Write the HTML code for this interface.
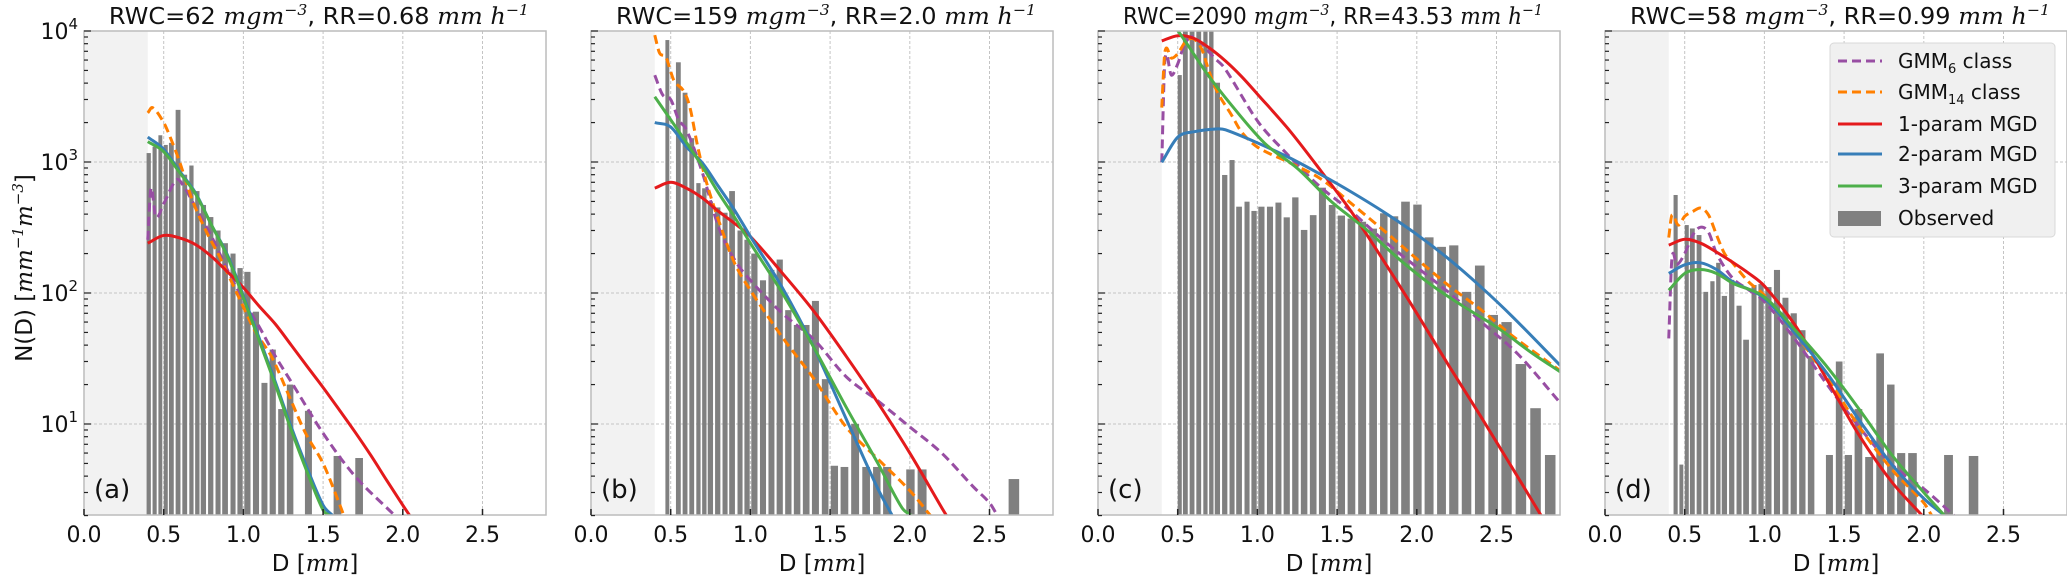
<!DOCTYPE html>
<html><head><meta charset="utf-8">
<style>
html,body{margin:0;padding:0;background:#fff;}
svg{display:block;font-family:"DejaVu Sans","Liberation Sans",sans-serif;}
.m{font-family:"DejaVu Serif","Liberation Serif",serif;font-style:italic;}
</style></head>
<body>
<svg id="chart" width="2067" height="577" viewBox="0 0 2067 577" xmlns="http://www.w3.org/2000/svg">
<defs id="defs"></defs>
<g id="root"></g>
</svg>
<script>
// ---- data ----
const bins = [0.406,0.443,0.479,0.513,0.548,0.59,0.632,0.674,0.711,0.749,0.795,0.841,0.885,0.935,0.979,1.025,1.079,1.132,1.184,1.238,1.293,1.35,1.408,1.469,1.527,1.59,1.657,1.726,1.793,1.858,1.929,2.004,2.077,2.155,2.232,2.312,2.395,2.479,2.563,2.653,2.745,2.837];
const obsA = [1170,1310,1600,1350,1400,2500,800,940,600,470,380,300,240,200,155,145,72,20.6,37,13,20,0,12.6,0,0,5.7,0,5.5,0,0,0,0,0,0,0,0,0,0,0,0,0,0];
const obsB = [0,0,8530,0,5770,3380,1520,690,630,500,450,410,600,300,255,200,125,150,180,74,57,57,87,22,4.8,4.7,10,4.7,4.7,4.7,0,4.5,4.5,0,0,0,0,0,0,3.8,0,0];
const obsC = [0,0,0,4610,12000,13000,12000,11000,10500,4030,796,1035,456,498,423,456,456,490,378,537,303,393,637,470,390,370,350,310,406,385,498,473,266,225,231,102,162,68,60,28.7,13.2,5.8];
const obsD = [0,560,4.9,330,311,277,102,123,170,95,126,80,44,115,117,111,150,92,70,52,33,0,5.8,30,5.8,13,5.6,34.6,20,6,6,0,0,5.8,0,5.7,0,0,0,0,0,0];

const aPurple = [[0.4,255],[0.42,630],[0.45,380],[0.5,480],[0.58,730],[0.63,640],[0.7,450],[0.8,270],[0.9,150],[1.0,88],[1.1,55],[1.2,33],[1.3,21],[1.5,8.5],[1.7,4],[1.95,2]];
const aOrange = [[0.4,2370],[0.43,2600],[0.5,2000],[0.55,1450],[0.6,1000],[0.68,510],[0.77,290],[0.85,190],[0.98,88],[1.07,52],[1.18,32],[1.3,15],[1.39,8.5],[1.5,5],[1.6,2.5],[1.63,2]];
const aRed = [[0.4,240],[0.5,275],[0.6,263],[0.7,234],[0.8,190],[0.9,145],[1.0,110],[1.1,79],[1.2,58],[1.3,40],[1.4,27.5],[1.5,19],[1.6,12.9],[1.7,8.7],[1.8,5.75],[1.9,3.7],[2.0,2.4],[2.05,1.95]];
const aBlue = [[0.4,1550],[0.5,1250],[0.6,850],[0.7,580],[0.8,330],[0.9,195],[1.0,95],[1.1,45],[1.2,21],[1.3,9.5],[1.4,4.6],[1.5,2.4],[1.56,2]];
const aGreen = [[0.4,1430],[0.5,1200],[0.6,830],[0.7,570],[0.8,330],[0.9,190],[1.0,92],[1.1,43],[1.2,20],[1.3,9],[1.4,4.3],[1.5,2.2],[1.54,2]];

const bPurple = [[0.4,4600],[0.45,3250],[0.5,3000],[0.55,2100],[0.6,1750],[0.7,820],[0.8,320],[0.9,180],[1.0,125],[1.2,70],[1.4,44],[1.6,23],[1.8,15],[2.0,9.5],[2.2,6],[2.4,3.3],[2.5,2.5],[2.55,2]];
const bOrange = [[0.4,9300],[0.43,6800],[0.47,6300],[0.52,4200],[0.58,3500],[0.62,2630],[0.67,1300],[0.72,730],[0.8,360],[0.9,170],[1.0,105],[1.2,46],[1.4,22],[1.6,9.5],[1.8,5.4],[2.0,3.1],[2.13,2]];
const bRed = [[0.4,632],[0.5,700],[0.6,630],[0.7,530],[0.8,420],[0.9,340],[1.0,270],[1.2,142],[1.4,72],[1.6,33],[1.8,14.5],[2.0,6],[2.2,2.3],[2.23,2]];
const bBlue = [[0.4,2000],[0.5,1850],[0.6,1300],[0.7,980],[0.8,650],[0.9,430],[1.0,270],[1.2,110],[1.4,38],[1.6,11],[1.8,3.2],[1.89,2]];
const bGreen = [[0.4,3150],[0.5,2100],[0.6,1400],[0.7,920],[0.8,580],[0.9,380],[1.0,240],[1.2,100],[1.4,38],[1.6,13.5],[1.8,5],[1.95,2.3],[2.01,2]];

const cPurple = [[0.4,995],[0.42,6000],[0.46,4600],[0.5,5600],[0.545,8000],[0.6,9000],[0.732,6190],[0.795,5190],[1.004,2030],[1.172,1200],[1.381,667],[1.59,418],[1.8,247],[2.01,154],[2.218,97],[2.427,57],[2.636,34],[2.9,14.5]];
const cOrange = [[0.4,2600],[0.42,6950],[0.46,6200],[0.5,6700],[0.55,8300],[0.6,8700],[0.65,7300],[0.7,4800],[0.75,3400],[0.837,2290],[0.9,1700],[1.0,1300],[1.2,990],[1.4,740],[1.6,470],[1.8,295],[2.0,182],[2.2,114],[2.4,75],[2.6,47],[2.9,25.5]];
const cRed = [[0.4,8400],[0.5,9200],[0.6,8800],[0.7,7400],[0.8,5900],[0.9,4500],[1.0,3300],[1.2,1750],[1.4,850],[1.6,400],[1.8,170],[2.0,70],[2.2,28],[2.4,11.5],[2.6,4.6],[2.78,2]];
const cBlue = [[0.4,995],[0.5,1545],[0.6,1700],[0.75,1790],[0.8,1760],[1.0,1400],[1.2,1080],[1.4,800],[1.6,580],[1.8,410],[2.0,280],[2.2,182],[2.4,112],[2.6,66],[2.9,28]];
const cGreen = [[0.46,11000],[0.502,10000],[0.69,4610],[0.837,2720],[1.046,1390],[1.255,885],[1.464,498],[1.674,312],[1.883,184],[2.092,115],[2.3,78],[2.51,54],[2.72,35],[2.9,25]];

const dPurple = [[0.4,45],[0.42,184],[0.45,164],[0.5,200],[0.55,277],[0.6,318],[0.65,290],[0.7,200],[0.8,130],[0.9,106],[1.0,86],[1.2,43],[1.4,19.5],[1.6,9.3],[1.8,4.9],[2.0,3.2],[2.19,2]];
const dOrange = [[0.4,265],[0.42,393],[0.46,330],[0.5,385],[0.55,418],[0.6,445],[0.65,393],[0.7,277],[0.75,200],[0.8,170],[0.9,122],[1.0,96],[1.2,48],[1.4,22],[1.6,9.3],[1.8,4.5],[2.0,2.5],[2.05,2]];
const dRed = [[0.4,232],[0.5,257],[0.6,240],[0.7,205],[0.8,172],[0.9,142],[1.0,113],[1.2,55],[1.4,21],[1.6,8],[1.8,3.6],[1.99,2]];
const dBlue = [[0.4,141],[0.5,164],[0.6,170],[0.7,151],[0.8,122],[1.0,91],[1.2,48],[1.4,23.7],[1.6,10.5],[1.8,4.9],[2.0,2.7],[2.13,2]];
const dGreen = [[0.4,105],[0.5,141],[0.6,151],[0.7,141],[0.8,119],[1.0,93],[1.2,51],[1.4,26.7],[1.6,12.7],[1.8,5.8],[2.0,3.0],[2.13,2]];

const xTicks = [0.0,0.5,1.0,1.5,2.0,2.5];
const xTickLabels = ["0.0","0.5","1.0","1.5","2.0","2.5"];
const yDecades = [1,2,3,4];
const panelLetters = ["(a)","(b)","(c)","(d)"];
const rwcVals = ["62","159","2090","58"];
const rrVals = ["0.68","2.0","43.53","0.99"];

// ---- layout ----
const NS = "http://www.w3.org/2000/svg";
const lefts = [84, 591, 1098, 1605];
const W = 462, TOP = 31, BOT = 515, PXMM = 159.4, DEC = 131, YMIN = 2;
const COLORS = {purple:"#984ea3", orange:"#ff7f00", red:"#e41a1c", blue:"#377eb8", green:"#4daf4a"};
const root = document.getElementById("root");
const defs = document.getElementById("defs");

function el(tag, attrs, parent){ const e=document.createElementNS(NS,tag); for(const k in attrs) e.setAttribute(k,attrs[k]); (parent||root).appendChild(e); return e; }
function xs(L,d){ return L + d*PXMM; }
function ys(v){ return TOP + (4-Math.log10(v))*DEC; }

function smoothPath(L, pts){
  const P = pts.map(p=>[xs(L,p[0]), ys(p[1])]);
  let d = "M"+P[0][0].toFixed(2)+","+P[0][1].toFixed(2);
  for(let i=0;i<P.length-1;i++){
    const p0=P[Math.max(0,i-1)], p1=P[i], p2=P[i+1], p3=P[Math.min(P.length-1,i+2)];
    const h = p2[0]-p1[0];
    const s1 = (p2[1]-p0[1])/Math.max(1e-6,(p2[0]-p0[0]));
    const s2 = (p3[1]-p1[1])/Math.max(1e-6,(p3[0]-p1[0]));
    const c1=[p1[0]+h/3, p1[1]+s1*h/3];
    const c2=[p2[0]-h/3, p2[1]-s2*h/3];
    d += " C"+c1[0].toFixed(2)+","+c1[1].toFixed(2)+" "+c2[0].toFixed(2)+","+c2[1].toFixed(2)+" "+p2[0].toFixed(2)+","+p2[1].toFixed(2);
  }
  return d;
}

const panels = [
  {obs:obsA, curves:{purple:aPurple, orange:aOrange, red:aRed, blue:aBlue, green:aGreen}},
  {obs:obsB, curves:{purple:bPurple, orange:bOrange, red:bRed, blue:bBlue, green:bGreen}},
  {obs:obsC, curves:{purple:cPurple, orange:cOrange, red:cRed, blue:cBlue, green:cGreen}},
  {obs:obsD, curves:{purple:dPurple, orange:dOrange, red:dRed, blue:dBlue, green:dGreen}}
];

panels.forEach((pn, pi)=>{
  const L = lefts[pi];
  const g = el("g", {});
  
  
  const cp = el("clipPath", {id:"clip"+pi}, defs);
  el("rect", {x:L, y:TOP, width:W, height:BOT-TOP}, cp);

  const sh = el("rect", {x:L, y:TOP, width:xs(L,0.4)-L, height:BOT-TOP, fill:"#f2f2f2"}, g);
  
  

  xTicks.forEach(t=>{ if(t>0){ const gl=el("line",{x1:xs(L,t),x2:xs(L,t),y1:TOP,y2:BOT,stroke:"#c4c4c4","stroke-width":1,"stroke-dasharray":"3,2"},g);
      }});
  yDecades.forEach(k=>{ if(k<4){ const gl=el("line",{x1:L,x2:L+W,y1:ys(Math.pow(10,k)),y2:ys(Math.pow(10,k)),stroke:"#c4c4c4","stroke-width":1,"stroke-dasharray":"3,2"},g);
      }});

  const bg = el("g",{"clip-path":"url(#clip"+pi+")"},g);
  
  
  pn.obs.forEach((v,i)=>{
    if(!(v>0)) return;
    const sp = i<bins.length-1 ? bins[i+1]-bins[i] : bins[i]-bins[i-1];
    const w = sp*PXMM*0.72;
    const x = xs(L,bins[i]) - w/2;
    const y = Math.max(TOP-2, ys(v));
    const r = el("rect",{x:x.toFixed(2), y:y.toFixed(2), width:w.toFixed(2), height:(BOT-y).toFixed(2), fill:"#808080"},bg);
    
    
  });

  const cg = el("g",{"clip-path":"url(#clip"+pi+")", fill:"none"},g);
  
  
  ["purple","orange","red","blue","green"].forEach(k=>{
    const dashed = (k==="purple"||k==="orange");
    const p = el("path",{d:smoothPath(L,pn.curves[k]), stroke:COLORS[k], "stroke-width":3, fill:"none", "stroke-dasharray": dashed?"9,5":"none"},cg);
    
    
  });

  const fr = el("rect",{x:L, y:TOP, width:W, height:BOT-TOP, fill:"none", stroke:"#bcbcbc","stroke-width":1.5},g);
  
  

  xTicks.forEach((t,i)=>{
    const tk = el("line",{x1:xs(L,t),x2:xs(L,t),y1:BOT,y2:BOT-6,stroke:"#222","stroke-width":1.5},g);
     
    const tl = el("text",{x:xs(L,t), y:542, "text-anchor":"middle","font-size":22,fill:"#111"},g);
    tl.textContent = xTickLabels[i];
     
  });
  for(let k=0;k<4;k++){
    for(let m=1;m<10;m++){
      const v = m*Math.pow(10,k);
      if(v<YMIN || v>10000) continue;
      const tk = el("line",{x1:L,x2:L+(m===1?7:4),y1:ys(v),y2:ys(v),stroke:"#222","stroke-width":1.2},g);
      
      
    }
  }
  const t4 = el("line",{x1:L,x2:L+7,y1:ys(10000),y2:ys(10000),stroke:"#222","stroke-width":1.2},g);
   

  const xl = el("text",{x:L+W/2, y:571, "text-anchor":"middle","font-size":23,fill:"#111"},g);
  xl.innerHTML = 'D [<tspan class="m">mm</tspan>]';
   

  const tt = el("text",{x:L+W/2-188, y:24, "font-size":23,fill:"#111", textLength:420, lengthAdjust:"spacingAndGlyphs"},g);
  tt.innerHTML = 'RWC='+rwcVals[pi]+' <tspan class="m">mgm</tspan><tspan class="m" font-size="15" dy="-9">−3</tspan><tspan dy="9">, RR='+rrVals[pi]+' </tspan><tspan class="m">mm h</tspan><tspan class="m" font-size="15" dy="-9">−1</tspan>';
   
  // re-center title after layout
  try{ const bb = tt.getBBox(); tt.setAttribute('x', (L+W/2 - bb.width/2).toFixed(1)); tt.removeAttribute('textLength'); 
       const bb2 = tt.getBBox(); const sc = 420/bb2.width; const cx = L+W/2+4;
       tt.setAttribute('x', (cx - bb2.width/2).toFixed(1));
       tt.setAttribute('transform', 'translate('+cx+',0) scale('+sc.toFixed(3)+',1) translate('+(-cx)+',0)'); }catch(e){}

  const lt = el("text",{x:L+10, y:498,"font-size":26,fill:"#111"},g);
  lt.textContent = panelLetters[pi];
   
});

yDecades.forEach(k=>{
  const t = el("text",{x:78, y:ys(Math.pow(10,k))+8, "text-anchor":"end","font-size":22,fill:"#111"});
  t.innerHTML = '10<tspan font-size="15" dy="-10">'+k+'</tspan>';
   
});
const yl = el("text",{x:0,y:0,"text-anchor":"middle","font-size":23,fill:"#111",transform:"translate(32,268) rotate(-90)"});
yl.innerHTML = 'N(D) [<tspan class="m">mm</tspan><tspan class="m" font-size="15" dy="-9">−1</tspan><tspan class="m" dy="9">m</tspan><tspan class="m" font-size="15" dy="-9">−3</tspan><tspan dy="9">]</tspan>';
 

const lg = el("g",{});
 
el("rect",{x:1830,y:43,width:225,height:194,rx:4,fill:"#f0f0f0",stroke:"#d8d8d8","stroke-width":1},lg);
const legItems = [
  {k:"purple", html:'GMM<tspan font-size="13" dy="5">6</tspan><tspan dy="-5"> class</tspan>', dash:true},
  {k:"orange", html:'GMM<tspan font-size="13" dy="5">14</tspan><tspan dy="-5"> class</tspan>', dash:true},
  {k:"red", html:'1-param MGD'},
  {k:"blue", html:'2-param MGD'},
  {k:"green", html:'3-param MGD'},
  {k:"obs", html:'Observed'}
];
const legY = [61,92,124,154,186,218];
legItems.forEach((it,i)=>{
  const y = legY[i];
  const eg = el("g",{},lg);
  
  
  if(it.k==="obs"){
    el("rect",{x:1838,y:y-7,width:43,height:15,fill:"#808080"},eg);
  } else {
    el("line",{x1:1838,x2:1882,y1:y,y2:y,stroke:COLORS[it.k],"stroke-width":3,"stroke-dasharray":it.dash?"9,5":"none"},eg);
  }
  const t = el("text",{x:1898,y:y+7,"font-size":20,fill:"#111"},eg);
  t.innerHTML = it.html;
});
</script>
</body></html>
